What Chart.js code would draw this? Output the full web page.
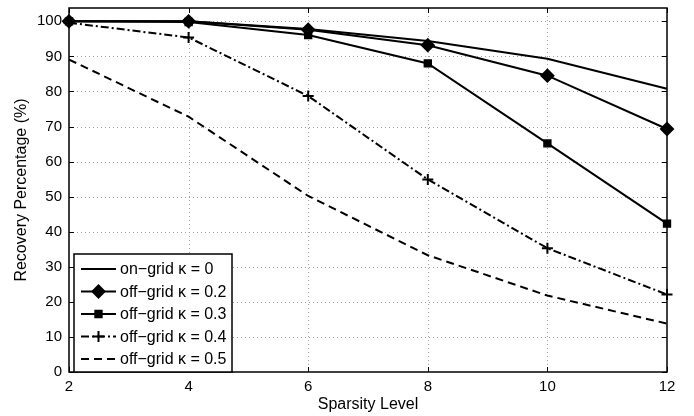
<!DOCTYPE html>
<html>
<head>
<meta charset="utf-8">
<script src="https://cdn.jsdelivr.net/npm/chart.js@4.4.1/dist/chart.umd.min.js"></script>
<style>
  html,body{margin:0;padding:0;background:#fff;}
  #wrap{width:694px;height:416px;}
</style>
</head>
<body>
<div id="wrap"><canvas id="rec-chart" width="694" height="416"></canvas></div>
<script>
// sparsity levels (x) and recovery percentages
const sparsity=[2,4,6,8,10,12];
const onGrid0=[100,100,97.8,94.4,89.3,80.8];
const offGrid02=[100,100,97.6,93.2,84.5,69.3];
const offGrid03=[100,99.8,96.1,88.0,65.2,42.3];
const offGrid04=[99.6,95.4,78.7,54.9,35.3,22.1];
const offGrid05=[89.1,72.8,50.2,33.3,21.8,13.8];
const seriesLabels=['on\u2212grid \u03ba = 0','off\u2212grid \u03ba = 0.2','off\u2212grid \u03ba = 0.3','off\u2212grid \u03ba = 0.4','off\u2212grid \u03ba = 0.5'];
const yTicks=[0,10,20,30,40,50,60,70,80,90,100];

const FONT='"Liberation Sans", Arial, sans-serif';
const pts=arr=>arr.map((v,i)=>({x:sparsity[i],y:v}));

const styles=[
  {pointStyle:false,dash:[]},
  {pointStyle:'rectRot',radius:6,dash:[]},
  {pointStyle:'rect',radius:4.5,dash:[]},
  {pointStyle:'cross',radius:5.5,dash:[8,3,2,3]},
  {pointStyle:false,dash:[8,5]}
];
const allData=[onGrid0,offGrid02,offGrid03,offGrid04,offGrid05];

const datasets=allData.map((d,i)=>({
  label:seriesLabels[i],data:pts(d),
  borderColor:'#000',backgroundColor:'#000',borderWidth:2,borderDash:styles[i].dash,
  pointStyle:styles[i].pointStyle||'circle',pointRadius:styles[i].pointStyle?styles[i].radius:0,
  pointBorderWidth:2,pointBorderColor:'#000',pointBackgroundColor:'#000',
  tension:0,clip:false
}));

// dotted grid, box and inward ticks like the MATLAB axes
const boxPlugin={
  id:'box',
  beforeDatasetsDraw(chart){
    const {ctx,chartArea:a,scales:{x,y}}=chart;
    ctx.save();
    ctx.strokeStyle='#a0a0a0';ctx.lineWidth=1;ctx.setLineDash([1,3]);
    x.ticks.forEach(t=>{const px=Math.round(x.getPixelForValue(t.value))+0.5;
      if(t.value>x.min&&t.value<x.max){ctx.beginPath();ctx.moveTo(px,a.top);ctx.lineTo(px,a.bottom);ctx.stroke();}});
    y.ticks.forEach(t=>{const py=Math.round(y.getPixelForValue(t.value))+0.5;
      if(t.value>y.min&&t.value<y.max){ctx.beginPath();ctx.moveTo(a.left,py);ctx.lineTo(a.right,py);ctx.stroke();}});
    ctx.restore();
  },
  afterDatasetsDraw(chart){
    const {ctx,chartArea:a,scales:{x,y}}=chart;
    ctx.save();
    ctx.strokeStyle='#000';ctx.lineWidth=1.5;ctx.setLineDash([]);
    ctx.strokeRect(a.left,a.top,a.right-a.left,a.bottom-a.top);
    ctx.lineWidth=1;
    const L=5;
    x.ticks.forEach(t=>{const px=Math.round(x.getPixelForValue(t.value))+0.5;
      ctx.beginPath();ctx.moveTo(px,a.bottom);ctx.lineTo(px,a.bottom-L);ctx.moveTo(px,a.top);ctx.lineTo(px,a.top+L);ctx.stroke();});
    y.ticks.forEach(t=>{const py=Math.round(y.getPixelForValue(t.value))+0.5;
      ctx.beginPath();ctx.moveTo(a.left,py);ctx.lineTo(a.left+L,py);ctx.moveTo(a.right,py);ctx.lineTo(a.right-L,py);ctx.stroke();});
    // legend box in lower-left corner
    const bx=a.left+5,bw=158,rowH=22.5,bh=rowH*5+5.5,by=a.bottom-bh;
    ctx.fillStyle='#fff';ctx.fillRect(bx,by,bw,bh);
    ctx.lineWidth=1.5;ctx.strokeStyle='#000';ctx.strokeRect(bx,by,bw,bh);
    ctx.font='16px '+FONT;ctx.textBaseline='middle';ctx.fillStyle='#000';
    chart.data.datasets.forEach((ds,i)=>{
      const cy=by+15+rowH*i;
      ctx.save();
      ctx.lineWidth=2;ctx.setLineDash(ds.borderDash);ctx.strokeStyle='#000';
      ctx.beginPath();ctx.moveTo(bx+7,cy);ctx.lineTo(bx+42,cy);ctx.stroke();
      ctx.setLineDash([]);
      if(ds.pointRadius>0){
        Chart.helpers.drawPoint(ctx,{pointStyle:ds.pointStyle,radius:ds.pointRadius,borderWidth:2,rotation:0},bx+24.5,cy);
      }
      ctx.restore();
      ctx.fillStyle='#000';
      ctx.fillText(ds.label,bx+46,cy+1);
    });
    ctx.restore();
  }
};

new Chart(document.getElementById('rec-chart').getContext('2d'),{
  type:'line',
  data:{datasets},
  plugins:[boxPlugin],
  options:{
    responsive:false,animation:false,
    layout:{padding:{top:4,right:27,left:0,bottom:0}},
    plugins:{legend:{display:false},tooltip:{enabled:false}},
    scales:{
      x:{type:'linear',min:2,max:12,
        grid:{display:false,drawTicks:false},border:{display:false},
        ticks:{stepSize:2,color:'#000',font:{family:FONT,size:15},padding:6,maxRotation:0},
        title:{display:true,text:'Sparsity Level',color:'#000',font:{family:FONT,size:16},padding:{top:0,bottom:2}},
        afterFit(s){s.height=44;s.paddingLeft=0;s.paddingRight=0;}
      },
      y:{min:0,max:103.8,
        grid:{display:false,drawTicks:false},border:{display:false},
        afterBuildTicks(s){s.ticks=yTicks.map(v=>({value:v}));},
        ticks:{color:'#000',font:{family:FONT,size:15},padding:7},
        title:{display:true,text:'Recovery Percentage (%)',color:'#000',font:{family:FONT,size:16},padding:{top:12,bottom:0}},
        afterFit(s){s.width=69;s.paddingTop=0;s.paddingBottom=0;}
      }
    }
  }
});
</script>
</body>
</html>
